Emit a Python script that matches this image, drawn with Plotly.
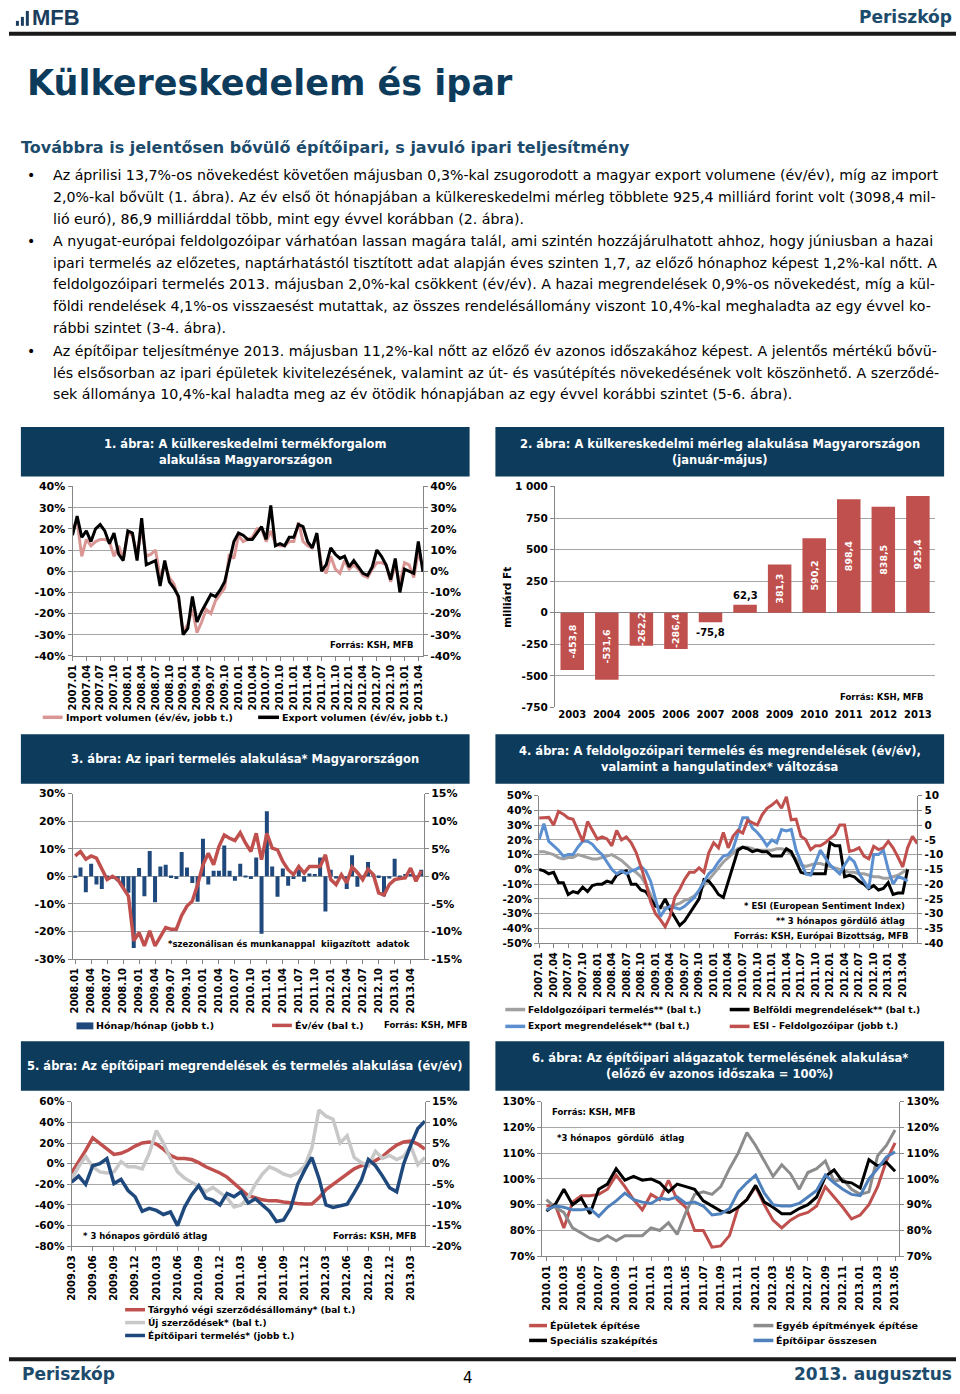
import plotly.graph_objects as go

# ---------------------------------------------------------------- data
def months(y0, m0, y1, m1):
    out, y, m = [], y0, m0
    while (y, m) <= (y1, m1):
        out.append(f"{y}.{m:02d}")
        m += 1
        if m > 12:
            y, m = y + 1, 1
    return out

# Chart 1 – foreign trade volumes (2007.01–2013.05)
c1_months = months(2007, 1, 2013, 5)
c1_xticks = ["2007.01", "2007.04", "2007.07", "2007.10", "2008.01", "2008.04", "2008.07", "2008.10",
             "2009.01", "2009.04", "2009.07", "2009.10", "2010.01", "2010.04", "2010.07", "2010.10",
             "2011.01", "2011.04", "2011.07", "2011.10", "2012.01", "2012.04", "2012.07", "2012.10",
             "2013.01", "2013.04"]
c1_import = [20, 24, 7, 15, 12, 14, 15, 15, 14, 7, 12, 6,
             18, 17, 8, 20, 7, 8, 10, -3, 3, -3, -6, -13,
             -29, -25, -18, -29, -24, -18, -20, -14, -11, -8, 8, 6,
             17, 14, 15, 16, 20, 20, 14, 19, 13, 12, 12, 14,
             14, 23, 14, 12, 11, 17, 3, -1, 7, 1, -1, 5,
             1, 3, 1, -2, -3, 1, 4, 4, 3, -5, 3, -6,
             4, 3, -3, 9, 2]
c1_export = [17, 26, 16, 19, 14, 20, 22, 19, 13, 18, 8, 5,
             19, 18, 5, 25, 3, 4, 5, -7, 5, -5, -8, -12,
             -30, -27, -12, -24, -19, -15, -11, -12, -9, -5, 5, 14,
             18, 17, 15, 15, 18, 21, 15, 31, 12, 13, 12, 16,
             16, 22, 21, 14, 11, 18, 0, 3, 11, 8, 6, 7,
             2, 5, 2, -1, -2, 2, 10, 7, 3, -4, 6, -10,
             1, 0, -1, 14, -0.3]
c1_yticks = [-40, -30, -20, -10, 0, 10, 20, 30, 40]

# Chart 2 – trade balance, January–May (billion HUF)
c2_years = ["2003", "2004", "2005", "2006", "2007", "2008", "2009", "2010", "2011", "2012", "2013"]
c2_balance = [-453.8, -531.6, -262.2, -286.4, -75.8, 62.3, 381.3, 590.2, 898.4, 838.5, 925.4]
c2_yticks = [-750, -500, -250, 0, 250, 500, 750, 1000]
c2_yticklabels = ["-750", "-500", "-250", "0", "250", "500", "750", "1 000"]

# Chart 3 – industrial production (2008.01–2013.06)
c3_months = months(2008, 1, 2013, 6)
c3_xticks = ["2008.01", "2008.04", "2008.07", "2008.10", "2009.01", "2009.04", "2009.07", "2009.10",
             "2010.01", "2010.04", "2010.07", "2010.10", "2011.01", "2011.04", "2011.07", "2011.10",
             "2012.01", "2012.04", "2012.07", "2012.10", "2013.01", "2013.04"]
c3_mom = [-0.3, 1.6, -2.9, 2.3, -1.5, -2.3, -0.1, -0.5, -0.9, -2.1, -3.0, -13.0,
          1.5, -3.6, 4.6, -4.7, 1.8, 2.1, -0.3, -0.5, 4.4, 1.6, -1.2, -4.6,
          6.8, -1.5, 1.0, 1.0, 5.6, 1.0, -0.8, 2.3, -0.2, -0.5, 3.4, -10.4,
          11.8, 1.8, -3.7, 1.4, -1.7, -0.5, 1.2, -1.0, 0.5, 0.4, 3.4, -6.4,
          1.2, -0.4, -0.3, -2.3, 3.8, -1.9, -0.1, 2.6, 0.4, -0.3, -3.6, -0.4,
          3.2, -0.1, 0.4, 0.4, -0.3, 1.2]
c3_yoy = [7.4, 9, 6.2, 7.4, 6.6, 2.4, -1.2, 0, -1.2, -4.2, -7.2, -23.4,
          -20.4, -25.2, -19.8, -25.2, -21.8, -18.6, -19.2, -19.2, -14.2, -10.8, -9, -3,
          4.2, 8.4, 4.2, 10.8, 15, 13.8, 13, 15.8, 12, 9, 15.6, 6,
          15.6, 10.2, 9.6, 5.4, 2.4, 0.6, 3.6, 1.2, 3.6, 3.6, 3.6, 7.8,
          -1.2, -3, 0.6, -2.4, 3.4, 1.4, -1.2, 2.6, 0.6, -6, -6.8, -3,
          -1.2, -0.8, -0.6, 3, -1.8, 2]
c3_left_ticks = [-30, -20, -10, 0, 10, 20, 30]
c3_right_ticks = [-15, -10, -5, 0, 5, 10, 15]

# Chart 4 – manufacturing output, orders, ESI (2007.01–2013.07 axis)
c4_months = months(2007, 1, 2013, 7)
c4_xticks = c1_xticks
c4_output = [12, 12, 11, 10, 8, 7, 8, 8, 10, 9, 8, 7,
             7, 8, 9, 10, 8, 6, 3, 0, -2, -5, -10, -17,
             -24, -26, -26, -25, -24, -23, -21, -20, -18, -15, -11, -7,
             -3, 1, 5, 8, 11, 14, 15, 15, 14, 13, 13, 13,
             13, 14, 14, 13, 10, 7, 3, 2, 3, 4, 4, 3,
             2, 1, 0, -1, -2, -2, -3, -3, -4, -5, -5, -6,
             -6, -5, -4, -2, 0]
c4_domestic = [0, -1, -3, -2, -9, -9, -17, -15, -16, -12, -15, -11,
               -10, -10, -8, -9, -4, -2, -1, -10, -10, -14, -15, -20,
               -25, -26, -20, -27, -33, -38, -35, -30, -25, -20, -7, -8,
               -12, -17, -19, -8, 3, 13, 15, 14, 12, 13, 12, 12,
               9, 9, 9, 14, 12, 5, -2, -3, -3, -3, -3, -3,
               18, 16, 16, -5, -4, -5, -8, -10, -13, -11, -14, -13,
               -9, -17, -16, -16, 0]
c4_export = [20, 31, 19, 16, 13, 9, 10, 10, 15, 19, 19, 17,
             13, 10, 5, 0, -3, -1, -3, -1, 0, 2, -1, -8,
             -20, -32, -27, -25, -26, -27, -25, -22, -19, -14, -8, -3,
             0, 5, 9, 10, 14, 25, 35, 35, 28, 25, 21, 16,
             20, 18, 27, 26, 27, 13, 5, -3, -4, 5, 13, 8,
             3, 0, -3, 3, 8, 5, -3, -8, -13, 10, 10, 13,
             0, -10, -5, -6, -8]
c4_esi = [2.4, 2.5, 2.6, 0, 4.6, 3.7, 2.4, 2, -2, -5.5,
          1.2, -1.6, -4.7, -4, -4.7, -7, -1.8, -5, -4, -6,
          -9.2, -14, -19.5, -26, -30, -32, -34.4, -31, -24.4, -21.7,
          -18.4, -16, -16, -14.5, -16, -9.4, -6, -7.7, -2.5, -7.7,
          -3.8, -1.8, -2.7, 1.6, 0.7, 0, 3.5, 5.7, 6.8, 8.2,
          5.7, 9.6, 1.8, 2, -3.8, -5, -8.3, -7, -7, -6,
          -4.5, -3.2, 0, 0, -8.9, -8.5, -7.7, -10.5, -11.4, -7.2,
          -8.3, -7.7, -5.5, -7.7, -10.8, -14.2, -7.7, -3.8, -6.3]
c4_left_ticks = [-50, -40, -30, -20, -10, 0, 10, 20, 30, 40, 50]
c4_right_ticks = [-40, -35, -30, -25, -20, -15, -10, -5, 0, 5, 10]

# Chart 5 – construction orders and output (2009.03–2013.05)
c5_months = months(2009, 3, 2013, 5)
c5_xticks = ["2009.03", "2009.06", "2009.09", "2009.12", "2010.03", "2010.06", "2010.09", "2010.12",
             "2011.03", "2011.06", "2011.09", "2011.12", "2012.03", "2012.06", "2012.09", "2012.12",
             "2013.03"]
c5_stock = [-9, 1.6, 12.8, 25, 20, 14, 9, 10, 13, 17,
            20, 21, 19, 14, 8, 5, 5, 4, 1, -3,
            -6, -9, -13, -19, -25, -31, -33, -35, -36, -36,
            -37, -38, -38.5, -39, -39, -33, -25, -20, -15, -10,
            -5, -2, 0, 3, 7, 13, 18, 21, 22, 19,
            14]
c5_new = [-15, -3, 7, -3, -8, -9, -8, 2, -3, -3,
          -5, 10, 32, 20, 5, -8, -14, -18, -22, -27,
          -23, -28, -33, -42, -40, -33, -20, -10, -3, -6,
          -10, -12, -9, -2, 15, 52, 46, 43, 20, 27,
          6, 1, -2, 12, 5, 8, 4, 7, 17, -1,
          6]
c5_output = [-4.5, -3, -5, -0.5, 0, 1.2, -4.8, -3.8, -6.5, -8,
             -11.5, -10.8, -11.3, -12.3, -11.7, -15, -10.5, -7.5, -5.3, -8.3,
             -8.8, -10, -7.2, -8, -6.8, -9.5, -8.5, -10, -11.5, -14,
             -13.6, -10.8, -5, -1.5, 1.5, -3.5, -10, -10.6, -10.3, -9.8,
             -7, -4, 1, -0.5, -3, -5.8, -6.8, 0, 4.5, 8.5,
             10.3]
c5_left_ticks = [-80, -60, -40, -20, 0, 20, 40, 60]
c5_right_ticks = [-20, -15, -10, -5, 0, 5, 10, 15]

# Chart 6 – construction sub-sectors (2010.01–2013.05, previous year = 100%)
c6_months = months(2010, 1, 2013, 5)
c6_xticks = ["2010.01", "2010.03", "2010.05", "2010.07", "2010.09", "2010.11", "2011.01", "2011.03",
             "2011.05", "2011.07", "2011.09", "2011.11", "2012.01", "2012.03", "2012.05", "2012.07",
             "2012.09", "2012.11", "2013.01", "2013.03", "2013.05"]
c6_buildings = [89.5, 90, 81, 91, 93.5, 93.5, 94, 96, 101.5, 97,
                92, 88, 94, 92, 99.5, 92, 89, 80, 80, 73.5,
                74, 78, 89, 92, 97, 90, 84, 81, 84, 86,
                87, 89.5, 97, 93, 89, 84.5, 86, 90, 97, 107,
                114]
c6_other = [92, 89, 87, 81, 79, 77, 76, 78, 76, 78,
            78, 78, 81, 80, 83, 78.5, 87, 94, 95, 94,
            97, 104, 110, 118, 113, 107, 101, 105.5, 102, 96,
            102.5, 104, 107, 99, 100, 96, 94, 95, 109, 113,
            119]
c6_special = [87.5, 90, 96, 90, 92.5, 86.5, 96, 98, 104, 99.5,
              101, 99.5, 100, 98.5, 95, 98, 97, 96, 91.5, 89.5,
              87.5, 87, 89, 92, 97.5, 91, 89, 86.5, 86.5, 88.5,
              90, 93, 101, 103.5, 99, 98.5, 96.5, 107.5, 105, 106.5,
              103]
c6_total = [88, 89.5, 89, 88, 88, 88.5, 85.5, 89, 91.5, 94.5,
            92, 91, 90.5, 92.5, 92, 93, 90.5, 91, 89.5, 86,
            86.5, 88.5, 95, 98.5, 101.5, 94.5, 90, 89.5, 89.5, 90.5,
            93, 95.5, 101.5, 98.5, 96, 94, 93.5, 100, 104, 108.5,
            110.5]
c6_yticks = [70, 80, 90, 100, 110, 120, 130]

# ---------------------------------------------------------------- helpers
W, H = 960, 1394
FONT = "DejaVu Sans"
NAVY = "#0d3b5c"
TXTBLUE = "#1d4b6c"
AX = "#868686"
GRID = "#a6a6a6"


def px(x):
    return x / W


def py(y):
    return 1 - y / H


def pct(vals):
    return [f"{v}%" for v in vals]


def yax(top=None, bot=None, rng=None, tv=None, tt=None, side="left", overlaying=None,
        anchor="x", grid=True, size=11):
    d = dict(range=rng, tickmode="array", tickvals=tv, ticktext=tt, side=side, anchor=anchor,
             showgrid=grid, gridcolor=GRID, gridwidth=1, zeroline=False,
             showline=True, linecolor=AX, linewidth=1, ticks="outside", ticklen=4, tickcolor=AX,
             tickfont=dict(family=FONT, size=size, color="black", weight="bold"), fixedrange=True)
    if overlaying:
        d["overlaying"] = overlaying
    else:
        d["domain"] = [py(bot), py(top)]
    return d


def xax(left, right, anchor, cats, rng, tv, size=10, angle=-90):
    return dict(domain=[px(left), px(right)], anchor=anchor, type="category",
                categoryorder="array", categoryarray=cats, range=rng,
                tickmode="array", tickvals=tv, ticktext=tv, tickangle=angle,
                showgrid=False, showline=True, linecolor=AX, linewidth=1,
                ticks="outside", ticklen=4, tickcolor=AX,
                tickfont=dict(family=FONT, size=size, color="black", weight="bold"),
                fixedrange=True)


ann = []
shapes = []


def text(x, y, s, size=11, color="black", bold=False, xanchor="left", yanchor="middle",
         family=FONT, angle=0):
    ann.append(dict(x=px(x), y=py(y), xref="paper", yref="paper", text=s, showarrow=False,
                    xanchor=xanchor, yanchor=yanchor, textangle=angle,
                    font=dict(family=family, size=size, color=color,
                              weight="bold" if bold else "normal")))


def rect(x0, y0, x1, y1, color):
    shapes.append(dict(type="rect", xref="paper", yref="paper", x0=px(x0), x1=px(x1),
                       y0=py(y1), y1=py(y0), fillcolor=color, line=dict(width=0)))


def hline(x0, x1, y, color, width):
    shapes.append(dict(type="line", xref="paper", yref="paper", x0=px(x0), x1=px(x1),
                       y0=py(y), y1=py(y), line=dict(color=color, width=width)))


def legend_line(x0, x1, y, color, label, width=3.5, size=9.5):
    hline(x0, x1, y, color, width)
    text(x1 + 1, y, label, size=size, bold=True)


def header(x0, x1, y0, y1, lines, ys, size=11.5):
    rect(x0, y0, x1, y1, NAVY)
    for s, yy in zip(lines, ys):
        text((x0 + x1) / 2, yy, s, size=size, color="white", bold=True, xanchor="center")


fig = go.Figure()

# ---------------------------------------------------------------- chart 1
fig.add_trace(go.Scatter(x=c1_months, y=c1_import, mode="lines", xaxis="x", yaxis="y",
                         line=dict(color="#d99694", width=3), name="Import"))
fig.add_trace(go.Scatter(x=c1_months, y=c1_export, mode="lines", xaxis="x", yaxis="y2",
                         line=dict(color="#000000", width=3), name="Export"))

# ---------------------------------------------------------------- chart 2
c2_inside = [f"{v:.1f}".replace(".", ",") if abs(v) > 100 else "" for v in c2_balance]
fig.add_trace(go.Bar(x=c2_years, y=c2_balance, xaxis="x2", yaxis="y3", width=0.68,
                     marker=dict(color="#c0504d", line=dict(width=0)),
                     text=c2_inside, textposition="inside", insidetextanchor="middle",
                     textangle=-90, constraintext="none",
                     textfont=dict(family=FONT, size=9.5, color="white", weight="bold")))
for i, v in enumerate(c2_balance):
    if abs(v) <= 100:
        ann.append(dict(x=i, y=v, xref="x2", yref="y3", showarrow=False,
                        text=f"{v:.1f}".replace(".", ","),
                        yanchor="bottom" if v > 0 else "top", yshift=2 if v > 0 else -3,
                        font=dict(family=FONT, size=10, color="black", weight="bold")))

# ---------------------------------------------------------------- chart 3
fig.add_trace(go.Bar(x=c3_months, y=c3_mom, xaxis="x3", yaxis="y4", width=0.75,
                     marker=dict(color="#1f497d", line=dict(width=0))))
fig.add_trace(go.Scatter(x=c3_months, y=c3_yoy, mode="lines", xaxis="x3", yaxis="y5",
                         line=dict(color="#c0504d", width=3.5)))

# ---------------------------------------------------------------- chart 4
fig.add_trace(go.Scatter(x=c4_months[:len(c4_output)], y=c4_output, mode="lines", xaxis="x4",
                         yaxis="y6", line=dict(color="#a0a0a0", width=3)))
fig.add_trace(go.Scatter(x=c4_months[:len(c4_domestic)], y=c4_domestic, mode="lines", xaxis="x4",
                         yaxis="y6", line=dict(color="#000000", width=3)))
fig.add_trace(go.Scatter(x=c4_months[:len(c4_export)], y=c4_export, mode="lines", xaxis="x4",
                         yaxis="y6", line=dict(color="#5b8fd0", width=3)))
fig.add_trace(go.Scatter(x=c4_months, y=c4_esi, mode="lines", xaxis="x4", yaxis="y7",
                         line=dict(color="#c0504d", width=3)))

# ---------------------------------------------------------------- chart 5
fig.add_trace(go.Scatter(x=c5_months, y=c5_stock, mode="lines", xaxis="x5", yaxis="y8",
                         line=dict(color="#c0504d", width=3.5)))
fig.add_trace(go.Scatter(x=c5_months, y=c5_new, mode="lines", xaxis="x5", yaxis="y8",
                         line=dict(color="#c8c8c8", width=3.5)))
fig.add_trace(go.Scatter(x=c5_months, y=c5_output, mode="lines", xaxis="x5", yaxis="y9",
                         line=dict(color="#1f497d", width=3.5)))

# ---------------------------------------------------------------- chart 6
fig.add_trace(go.Scatter(x=c6_months, y=c6_buildings, mode="lines", xaxis="x6", yaxis="y10",
                         line=dict(color="#c0504d", width=3)))
fig.add_trace(go.Scatter(x=c6_months, y=c6_other, mode="lines", xaxis="x6", yaxis="y10",
                         line=dict(color="#8c8c8c", width=3)))
fig.add_trace(go.Scatter(x=c6_months, y=c6_special, mode="lines", xaxis="x6", yaxis="y10",
                         line=dict(color="#000000", width=3)))
fig.add_trace(go.Scatter(x=c6_months, y=c6_total, mode="lines", xaxis="x6", yaxis="y11",
                         line=dict(color="#4f81bd", width=3)))

# ---------------------------------------------------------------- axes
lay = dict(
    xaxis=xax(67, 420, "y", c1_months, [0, len(c1_months) - 1], c1_xticks),
    yaxis=yax(485, 656, [-40, 40], c1_yticks, pct(c1_yticks), side="left", anchor="x"),
    yaxis2=yax(rng=[-40, 40], tv=c1_yticks, tt=pct(c1_yticks), side="right", overlaying="y",
               anchor="x", grid=False),

    xaxis2=xax(553, 936, "y3", c2_years, [-0.5, len(c2_years) - 0.5], c2_years, size=10, angle=0),
    yaxis3=yax(485, 708, [-750, 1000], c2_yticks, c2_yticklabels, anchor="x2", size=10.5),

    xaxis3=xax(67, 421, "y4", c3_months, [-0.5, len(c3_months) - 0.5], c3_xticks),
    yaxis4=yax(795, 962, [-15, 15], c3_right_ticks, pct(c3_right_ticks), side="right", anchor="x3"),
    yaxis5=yax(rng=[-30, 30], tv=c3_left_ticks, tt=pct(c3_left_ticks), side="left",
               overlaying="y4", anchor="x3", grid=False),

    xaxis4=xax(537, 918, "y6", c4_months, [0, len(c4_months) - 1], c4_xticks),
    yaxis6=yax(797, 946, [-50, 50], c4_left_ticks, pct(c4_left_ticks), anchor="x4", size=10.5),
    yaxis7=yax(rng=[-40, 10], tv=c4_right_ticks, tt=[str(v) for v in c4_right_ticks],
               side="right", overlaying="y6", anchor="x4", grid=False, size=10.5),

    xaxis5=xax(66, 422, "y8", c5_months, [0, len(c5_months) - 1], c5_xticks),
    yaxis8=yax(1106, 1252, [-80, 60], c5_left_ticks, pct(c5_left_ticks), anchor="x5", size=10.5),
    yaxis9=yax(rng=[-20, 15], tv=c5_right_ticks, tt=pct(c5_right_ticks), side="right",
               overlaying="y8", anchor="x5", grid=False, size=10.5),

    xaxis6=xax(540, 900, "y10", c6_months, [-0.5, len(c6_months) - 0.5], c6_xticks),
    yaxis10=yax(1106, 1262, [70, 130], c6_yticks, pct(c6_yticks), anchor="x6", size=10.5),
    yaxis11=yax(rng=[70, 130], tv=c6_yticks, tt=pct(c6_yticks), side="right",
                overlaying="y10", anchor="x6", grid=False, size=10.5),
)
lay["xaxis2"].update(showline=False, ticks="")
lay["yaxis3"].update(zeroline=True, zerolinecolor=AX, zerolinewidth=1)

# ---------------------------------------------------------------- page text
for (x0, y0, x1) in [(10, 15, 13), (15, 11, 18), (20, 5, 23)]:
    rect(x0, y0, x1, 20, "#1b3e5e")
text(24, 12, "MFB", size=22, color="#1b3e5e", bold=True, family="Liberation Sans")
text(955, 11, "Periszkóp", size=17, color=TXTBLUE, bold=True, xanchor="right")
hline(3, 957, 28, "#1a1a1a", 4)

text(19, 78, "Külkereskedelem és ipar", size=35, color=NAVY, bold=True)
text(13, 143, "Továbbra is jelentősen bővülő építőipari, s javuló ipari teljesítmény",
     size=16, color=TXTBLUE, bold=True)

body = [
    (171, True, "Az áprilisi 13,7%-os növekedést követően májusban 0,3%-kal zsugorodott a magyar export volumene (év/év), míg az import"),
    (193, False, "2,0%-kal bővült (1. ábra). Az év első öt hónapjában a külkereskedelmi mérleg többlete 925,4 milliárd forint volt (3098,4 mil-"),
    (215, False, "lió euró), 86,9 milliárddal több, mint egy évvel korábban (2. ábra)."),
    (237, True, "A nyugat-európai feldolgozóipar várhatóan lassan magára talál, ami szintén hozzájárulhatott ahhoz, hogy júniusban a hazai"),
    (259, False, "ipari termelés az előzetes, naptárhatástól tisztított adat alapján éves szinten 1,7, az előző hónaphoz képest 1,2%-kal nőtt. A"),
    (281, False, "feldolgozóipari termelés 2013. májusban 2,0%-kal csökkent (év/év). A hazai megrendelések 0,9%-os növekedést, míg a kül-"),
    (303, False, "földi rendelések 4,1%-os visszaesést mutattak, az összes rendelésállomány viszont 10,4%-kal meghaladta az egy évvel ko-"),
    (325, False, "rábbi szintet (3-4. ábra)."),
    (348, True, "Az építőipar teljesítménye 2013. májusban 11,2%-kal nőtt az előző év azonos időszakához képest. A jelentős mértékű bővü-"),
    (370, False, "lés elsősorban az ipari épületek kivitelezésének, valamint az út- és vasútépítés növekedésének volt köszönhető. A szerződé-"),
    (392, False, "sek állománya 10,4%-kal haladta meg az év ötödik hónapjában az egy évvel korábbi szintet (5-6. ábra)."),
]
for yy, bullet, s in body:
    if bullet:
        text(19, yy, "•", size=14)
    text(45, yy, s, size=14.2)

# ---------------------------------------------------------------- chart decorations
header(15, 467, 425, 475, ["1. ábra: A külkereskedelmi termékforgalom", "alakulása Magyarországon"],
       [442, 458])
text(413, 645, "Forrás: KSH, MFB", size=8.5, bold=True, xanchor="right")
legend_line(37, 57, 718, "#d99694", "Import volumen (év/év, jobb t.)")
legend_line(254, 275, 718, "#000000", "Export volumen (év/év, jobb t.)")

header(493, 945, 425, 475, ["2. ábra: A külkereskedelmi mérleg alakulása Magyarországon",
                            "(január-május)"], [442, 458])
text(505, 597, "milliárd Ft", size=10.5, bold=True, xanchor="center", angle=-90)
text(927, 697, "Forrás: KSH, MFB", size=8.5, bold=True, xanchor="right")

header(15, 467, 735, 785, ["3. ábra: Az ipari termelés alakulása* Magyarországon"], [760])
text(409, 947, "*szezonálisan és munkanappal  kiigazított  adatok", size=8.5, bold=True,
     xanchor="right")
rect(71, 1026, 88, 1033, "#1f497d")
text(89, 1029, "Hónap/hónap (jobb t.)", size=9.5, bold=True)
legend_line(268, 288, 1029, "#c0504d", "Év/év (bal t.)")
text(379, 1029, "Forrás: KSH, MFB", size=8.5, bold=True)

header(493, 945, 735, 785, ["4. ábra: A feldolgozóipari termelés és megrendelések (év/év),",
                            "valamint a hangulatindex* változása"], [752, 768])
text(908, 908, "* ESI (European Sentiment Index)", size=8.5, bold=True, xanchor="right")
text(908, 924, "** 3 hónapos gördülő átlag", size=8.5, bold=True, xanchor="right")
text(912, 939, "Forrás: KSH, Európai Bizottság, MFB", size=8.5, bold=True, xanchor="right")
legend_line(503, 523, 1013, "#a0a0a0", "Feldolgozóipari termelés** (bal t.)", size=9)
legend_line(729, 749, 1013, "#000000", "Belföldi megrendelések** (bal t.)", size=9)
legend_line(503, 523, 1030, "#5b8fd0", "Export megrendelések** (bal t.)", size=9)
legend_line(729, 749, 1030, "#c0504d", "ESI - Feldolgozóipar (jobb t.)", size=9)

header(15, 467, 1045, 1095, ["5. ábra: Az építőipari megrendelések és termelés alakulása (év/év)"],
       [1070])
text(76, 1242, "* 3 hónapos gördülő átlag", size=8.5, bold=True)
text(416, 1242, "Forrás: KSH, MFB", size=8.5, bold=True, xanchor="right")
legend_line(120, 140, 1316, "#c0504d", "Tárgyhó végi szerződésállomány* (bal t.)", size=9)
legend_line(120, 140, 1329, "#c8c8c8", "Új szerződések* (bal t.)", size=9)
legend_line(120, 140, 1342, "#1f497d", "Építőipari termelés* (jobb t.)", size=9)

header(493, 945, 1045, 1095, ["6. ábra: Az építőipari alágazatok termelésének alakulása*",
                              "(előző év azonos időszaka = 100%)"], [1062, 1078])
text(548, 1116, "Forrás: KSH, MFB", size=8.5, bold=True)
text(553, 1143, "*3 hónapos  gördülő  átlag", size=8.5, bold=True)
legend_line(527, 545, 1332, "#c0504d", "Épületek építése")
legend_line(753, 773, 1332, "#8c8c8c", "Egyéb építmények építése")
legend_line(527, 545, 1347, "#000000", "Speciális szaképítés")
legend_line(753, 773, 1347, "#4f81bd", "Építőipar összesen")

# ---------------------------------------------------------------- footer
hline(3, 957, 1366, "#1a1a1a", 4)
text(14, 1381, "Periszkóp", size=17, color=TXTBLUE, bold=True)
text(465, 1385, "4", size=15, xanchor="center")
text(955, 1381, "2013. augusztus", size=17, color=TXTBLUE, bold=True, xanchor="right")

fig.update_layout(
    width=W, height=H, margin=dict(l=0, r=0, t=0, b=0),
    paper_bgcolor="white", plot_bgcolor="white", showlegend=False,
    annotations=ann, shapes=shapes, font=dict(family=FONT),
    **lay,
)

fig.write_html("out.html", config={"displayModeBar": False},
               post_script="document.body.style.margin='0';document.body.style.overflow='hidden';")
